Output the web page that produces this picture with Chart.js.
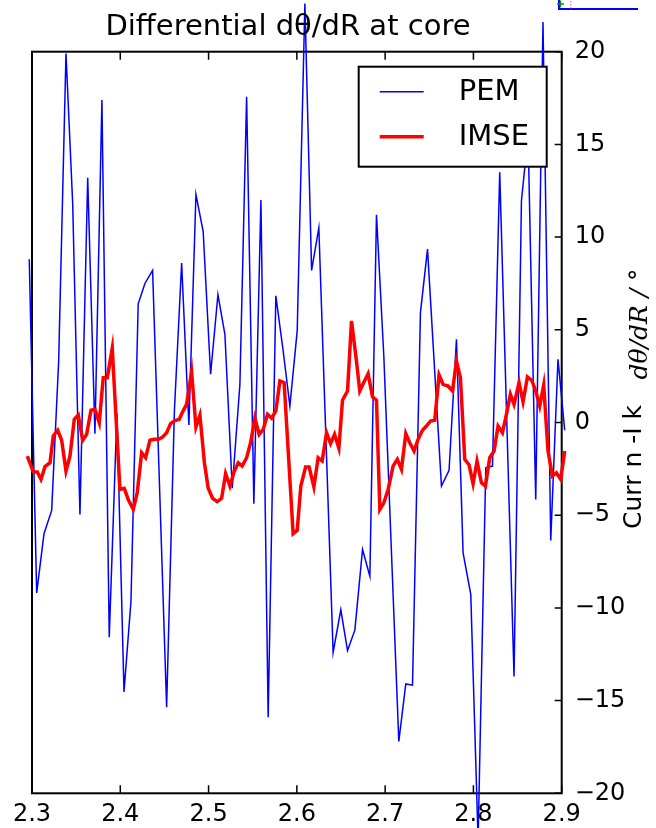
<!DOCTYPE html>
<html>
<head>
<meta charset="utf-8">
<script src="https://cdn.jsdelivr.net/npm/chart.js@4.4.1/dist/chart.umd.min.js"></script>
<style>
    html, body { margin: 0; padding: 0; background: #fff; }
    canvas { display: block; }
</style>
</head>
<body>
<canvas id="chart-core-element" width="656" height="828"></canvas>
<script>
// major radius R of each sample and the differential values (degrees)
const pemR = [
    2.2969, 2.3053, 2.3136, 2.3223, 2.3302, 2.3385, 2.3461, 2.3543, 2.3631, 2.3713,
    2.3792, 2.3875, 2.3962, 2.4042, 2.4121, 2.4203, 2.4279, 2.4366, 2.4525, 2.4613,
    2.4695, 2.4777, 2.4857, 2.4939, 2.5023, 2.5106, 2.5185, 2.5268, 2.5355, 2.5431,
    2.5513, 2.5593, 2.5675, 2.5762, 2.5845, 2.5921, 2.6004, 2.6091, 2.6167, 2.6249,
    2.6411, 2.6498, 2.6574, 2.6657, 2.6744, 2.6827, 2.6902, 2.6985, 2.7155, 2.7234,
    2.7310, 2.7400, 2.7480, 2.7638, 2.7724, 2.7808, 2.7883, 2.7970, 2.8053, 2.8140,
    2.8216, 2.8298, 2.8460, 2.8544, 2.8619, 2.8706, 2.8788, 2.8876, 2.8958, 2.9034,
];
const pemValues = [
    8.81, -9.19, -6.0, -4.74, 3.3, 19.9, 11.8, -4.96, 13.2, -0.6,
    17.4, -11.58, 0.5, -14.53, -9.64, 6.4, 7.5, 8.2, -15.36, 0.62,
    8.6, -0.13, 12.3, 10.3, 2.6, 6.9, 4.76, -3.55, 2.06, 17.57,
    -4.38, 12.0, -15.9, 6.83, 3.86, 0.89, 4.94, 22.6, 8.2, 10.5,
    -12.4, -10.1, -12.3, -11.2, -6.85, -8.29, 11.2, 3.6, -17.2, -14.1,
    -14.17, 5.93, 9.35, -3.43, -2.58, 4.49, -7.03, -9.27, -22.5, -2.44,
    -2.35, 13.5, -13.7, 11.96, 15.5, -4.15, 21.6, -6.36, 3.41, -0.42,
];

const imseR = [
    2.2947, 2.3015, 2.3060, 2.3102, 2.3147, 2.3204, 2.3241, 2.3291, 2.3336, 2.3385,
    2.3430, 2.3479, 2.3524, 2.3574, 2.3619, 2.3668, 2.3713, 2.3762, 2.3807, 2.3853,
    2.3909, 2.3996, 2.4045, 2.4090, 2.4147, 2.4192, 2.4242, 2.4287, 2.4336, 2.4381,
    2.4430, 2.4475, 2.4525, 2.4570, 2.4619, 2.4668, 2.4709, 2.4751, 2.4808, 2.4857,
    2.4902, 2.4953, 2.4996, 2.5046, 2.5098, 2.5148, 2.5193, 2.5242, 2.5290, 2.5336,
    2.5381, 2.5431, 2.5476, 2.5525, 2.5573, 2.5619, 2.5668, 2.5714, 2.5762, 2.5808,
    2.5856, 2.5958, 2.6004, 2.6045, 2.6099, 2.6139, 2.6193, 2.6241, 2.6287, 2.6336,
    2.6382, 2.6427, 2.6476, 2.6517, 2.6574, 2.6619, 2.6668, 2.6713, 2.6759, 2.6807,
    2.6857, 2.6902, 2.6940, 2.6985, 2.7034, 2.7090, 2.7138, 2.7185, 2.7234, 2.7279,
    2.7328, 2.7373, 2.7423, 2.7468, 2.7514, 2.7562, 2.7611, 2.7656, 2.7713, 2.7763,
    2.7808, 2.7853, 2.7902, 2.7951, 2.7996, 2.8041, 2.8091, 2.8136, 2.8185, 2.8234,
    2.8279, 2.8329, 2.8374, 2.8419, 2.8460, 2.8517, 2.8562, 2.8612, 2.8660, 2.8706,
    2.8751, 2.8796, 2.8845, 2.8895, 2.8940, 2.8989, 2.9034,
];
const imseValues = [
    -1.81, -2.67, -2.67, -3.07, -2.38, -2.17, -0.73, -0.42, -0.96, -2.62,
    -1.81, 0.17, 0.40, -0.96, -0.64, 0.66, 0.71, -0.01, 2.42, 2.42,
    4.0, -3.61, -3.55, -4.15, -4.69, -3.79, -1.63, -1.9, -0.96, -0.91,
    -0.91, -0.8, -0.55, -0.06, 0.1, 0.17, 0.6, 0.98, 2.73, -0.24,
    0.40, -2.17, -3.55, -4.09, -4.27, -4.09, -2.76, -3.43, -2.65, -2.17,
    -2.35, -1.9, -1.09, 0.23, -0.64, -0.37, 0.44, 0.23, 0.62, 2.24,
    2.15, -6.0, -5.82, -3.43, -2.4, -2.4, -3.48, -1.9, -2.08, -0.55,
    -1.14, -0.64, -1.39, 1.2, 1.7, 5.48, 3.6, 1.7, 2.17, 2.63,
    1.38, 1.2, -4.69, -4.33, -3.61, -2.35, -1.99, -2.53, -0.6, -1.09,
    -1.54, -0.91, -0.42, -0.19, 0.08, 0.12, 2.56, 2.06, 1.97, 1.7,
    3.32, 2.42, -1.99, -2.29, -3.3, -2.08, -3.25, -3.43, -1.9, -1.54,
    -0.19, -0.55, 0.44, 1.52, 0.98, 2.15, 1.12, 2.46, 2.28, 1.7,
    0.89, 2.02, -1.54, -2.89, -2.71, -3.07, -1.54,
];

const xTicks = [2.3, 2.4, 2.5, 2.6, 2.7, 2.8, 2.9];
const yTicks = [-20, -15, -10, -5, 0, 5, 10, 15, 20];
const titleText = "Differential dθ/dR at core";

const FONT = "'DejaVu Sans', sans-serif";

const toPoints = (xs, ys) => xs.map((x, i) => ({ x: x, y: ys[i] }));

// black box with inward ticks, like the classic matplotlib frame
const framePlugin = {
    id: "frame",
    beforeDatasetsDraw(chart) {
        const { ctx, chartArea: a, scales } = chart;
        ctx.save();
        ctx.strokeStyle = "#000";
        ctx.lineWidth = 2;
        ctx.strokeRect(a.left, a.top, a.right - a.left, a.bottom - a.top);
        ctx.lineWidth = 1.5;
        ctx.beginPath();
        xTicks.forEach((v) => {
            const px = scales.x.getPixelForValue(v);
            ctx.moveTo(px, a.bottom);
            ctx.lineTo(px, a.bottom - 8);
            ctx.moveTo(px, a.top);
            ctx.lineTo(px, a.top + 8);
        });
        yTicks.forEach((v) => {
            const py = scales.y.getPixelForValue(v);
            ctx.moveTo(a.right, py);
            ctx.lineTo(a.right - 7, py);
        });
        ctx.stroke();
        ctx.restore();
    },
};

// boxed legend drawn over the lines, upper right inside the axes
const legendBoxPlugin = {
    id: "legendBox",
    afterDatasetsDraw(chart) {
        const ctx = chart.ctx;
        const a = chart.chartArea;
        const box = { left: a.right - 203, top: a.top + 15, width: 188, height: 100 };
        ctx.save();
        ctx.fillStyle = "#fff";
        ctx.fillRect(box.left, box.top, box.width, box.height);
        ctx.strokeStyle = "#000";
        ctx.lineWidth = 2;
        ctx.strokeRect(box.left, box.top, box.width, box.height);
        ctx.font = "29px " + FONT;
        ctx.textBaseline = "middle";
        chart.data.datasets.forEach((ds, i) => {
            const y = box.top + 25 + i * 45;
            ctx.strokeStyle = ds.borderColor;
            ctx.lineWidth = ds.borderWidth;
            ctx.beginPath();
            ctx.moveTo(box.left + 21, y);
            ctx.lineTo(box.left + 65, y);
            ctx.stroke();
            ctx.fillStyle = "#000";
            ctx.fillText(ds.label, box.left + 100, y + 1);
        });
        ctx.restore();
    },
};

// title, rotated axis labels on the right and the stray mark in the corner
const sideLabelsPlugin = {
    id: "sideLabels",
    afterDraw(chart) {
        const ctx = chart.ctx;
        ctx.save();
        ctx.fillStyle = "#000";
        ctx.textAlign = "center";
        ctx.textBaseline = "alphabetic";
        ctx.font = "29px " + FONT;
        ctx.fillText(titleText, 288, 35);

        ctx.textBaseline = "middle";
        ctx.save();
        ctx.translate(634, 467);
        ctx.rotate(-Math.PI / 2);
        ctx.font = "25px " + FONT;
        ctx.fillText("Curr n -I k", 0, 0);
        ctx.restore();

        ctx.save();
        ctx.translate(640, 324);
        ctx.rotate(-Math.PI / 2);
        ctx.font = "italic 25px 'DejaVu Serif', serif";
        ctx.fillText("dθ/dR / °", 0, 0);
        ctx.restore();

        ctx.strokeStyle = "#0000ff";
        ctx.lineWidth = 2;
        ctx.beginPath();
        ctx.moveTo(559, 0);
        ctx.lineTo(559, 9);
        ctx.lineTo(638, 9);
        ctx.stroke();
        ctx.strokeStyle = "#1a8a1a";
        ctx.lineWidth = 1.5;
        ctx.beginPath();
        ctx.moveTo(557, 4);
        ctx.lineTo(564, 4);
        ctx.moveTo(560.5, 0.5);
        ctx.lineTo(560.5, 7.5);
        ctx.stroke();
        ctx.fillStyle = "rgba(255, 80, 80, 0.6)";
        [1, 4, 7].forEach((yy) => ctx.fillRect(570, yy, 1.5, 1.5));
        ctx.restore();
    },
};

const ctx = document.getElementById("chart-core-element").getContext("2d");

const chart = new Chart(ctx, {
    type: "line",
    data: {
        datasets: [
            {
                label: "PEM",
                data: toPoints(pemR, pemValues),
                borderColor: "#0000ff",
                borderWidth: 1.5,
                pointRadius: 0,
                tension: 0,
                clip: false,
                order: 2,
            },
            {
                label: "IMSE",
                data: toPoints(imseR, imseValues),
                borderColor: "#ff0000",
                borderWidth: 3.5,
                pointRadius: 0,
                tension: 0,
                clip: false,
                order: 1,
            },
        ],
    },
    options: {
        responsive: false,
        animation: false,
        devicePixelRatio: 1,
        layout: {
            padding: { left: 32, right: 0, top: 51.7, bottom: 0 },
        },
        plugins: {
            legend: { display: false },
            tooltip: { enabled: false },
            title: { display: false },
        },
        scales: {
            x: {
                type: "linear",
                position: "bottom",
                min: 2.3,
                max: 2.9,
                afterBuildTicks: (scale) => {
                    scale.ticks = xTicks.map((v) => ({ value: v }));
                },
                afterFit: (scale) => {
                    scale.height = 34.7;
                },
                grid: { display: false, drawTicks: false },
                border: { display: false },
                ticks: {
                    color: "#000",
                    padding: 7,
                    maxRotation: 0,
                    autoSkip: false,
                    font: { family: FONT, size: 24 },
                    callback: (v) => Number(v).toFixed(1),
                },
            },
            y: {
                type: "linear",
                position: "right",
                min: -20,
                max: 20,
                afterBuildTicks: (scale) => {
                    scale.ticks = yTicks.map((v) => ({ value: v }));
                },
                afterFit: (scale) => {
                    scale.width = 94.3;
                },
                grid: { display: false, drawTicks: false },
                border: { display: false },
                ticks: {
                    color: "#000",
                    padding: 13,
                    autoSkip: false,
                    font: { family: FONT, size: 24 },
                    callback: (v) => (v < 0 ? "\u2212" + Math.abs(v) : String(v)),
                },
            },
        },
    },
    plugins: [framePlugin, legendBoxPlugin, sideLabelsPlugin],
});
</script>
</body>
</html>
